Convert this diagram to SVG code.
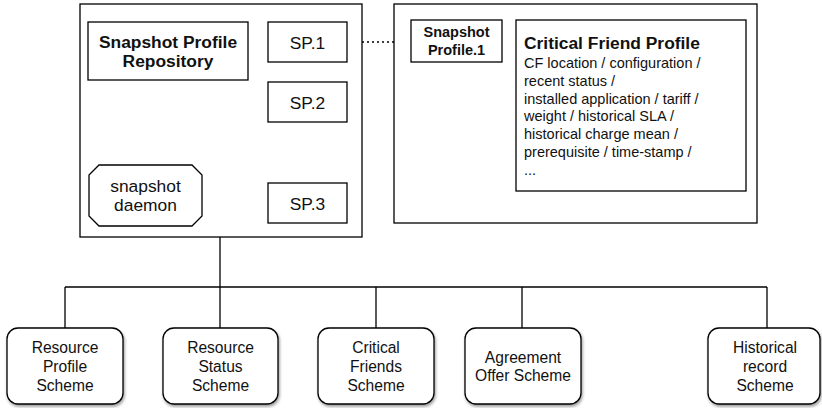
<svg xmlns="http://www.w3.org/2000/svg" width="822" height="408" viewBox="0 0 822 408">
<style>
  .box { fill: #fff; stroke: #000; stroke-width: 1.3; }
  .t { font-family: "Liberation Sans", Arial, sans-serif; fill: #111; }
  .b { font-weight: bold; }
  .conn { stroke: #000; stroke-width: 1.3; fill: none; }
</style>
<defs>
  <filter id="sh" x="-10%" y="-10%" width="130%" height="130%">
    <feGaussianBlur in="SourceAlpha" stdDeviation="1.5"/>
    <feOffset dx="1" dy="2" result="o"/>
    <feComponentTransfer><feFuncA type="linear" slope="0.4"/></feComponentTransfer>
    <feMerge><feMergeNode/><feMergeNode in="SourceGraphic"/></feMerge>
  </filter>
</defs>
<rect width="822" height="408" fill="#fff"/>

<g id="connectors">
  <line class="conn" x1="220" y1="237" x2="220" y2="287"/>
  <line class="conn" x1="65" y1="287" x2="767" y2="287"/>
  <line class="conn" x1="65" y1="287" x2="65" y2="328"/>
  <line class="conn" x1="220" y1="287" x2="220" y2="328"/>
  <line class="conn" x1="376" y1="287" x2="376" y2="328"/>
  <line class="conn" x1="522" y1="287" x2="522" y2="328"/>
  <line class="conn" x1="767" y1="287" x2="767" y2="328"/>
  <line class="conn" x1="347" y1="42" x2="411" y2="42" stroke-dasharray="2 3"/>
  <g fill="#000">
    <circle cx="300" cy="138" r="1.6"/>
    <circle cx="300" cy="153" r="1.6"/>
    <circle cx="300" cy="167" r="1.6"/>
  </g>
</g>

<g id="repository-container">
  <rect class="box" x="80" y="4" width="282" height="233"/>
</g>
<g id="snapshot-profile-repository">
  <rect class="box" x="88" y="22" width="160" height="58"/>
  <text class="t b" font-size="17.4" text-anchor="middle"><tspan x="168" y="48">Snapshot Profile</tspan><tspan x="168" y="67">Repository</tspan></text>
</g>
<g id="sp1">
  <rect class="box" x="268" y="22" width="79" height="40"/>
  <text class="t" font-size="17.4" x="307.5" y="49" text-anchor="middle">SP.1</text>
</g>
<g id="sp2">
  <rect class="box" x="268" y="82" width="79" height="40"/>
  <text class="t" font-size="17.4" x="307.5" y="109" text-anchor="middle">SP.2</text>
</g>
<g id="sp3">
  <rect class="box" x="268" y="183" width="79" height="40"/>
  <text class="t" font-size="17.4" x="307.5" y="210" text-anchor="middle">SP.3</text>
</g>
<g id="snapshot-daemon">
  <polygon class="box" points="99,165 192,165 202,175 202,216 192,226 99,226 89,216 89,175"/>
  <text class="t" font-size="17.4" text-anchor="middle"><tspan x="145.5" y="192">snapshot</tspan><tspan x="145.5" y="211">daemon</tspan></text>
</g>

<g id="profile-container">
  <rect class="box" x="394" y="4" width="363" height="219"/>
</g>
<g id="snapshot-profile-1">
  <rect class="box" x="411" y="20" width="91" height="42"/>
  <text class="t b" font-size="14.5" text-anchor="middle"><tspan x="456.5" y="37">Snapshot</tspan><tspan x="456.5" y="55">Profile.1</tspan></text>
</g>
<g id="critical-friend-profile">
  <rect class="box" x="516" y="20" width="230" height="171"/>
  <text class="t b" font-size="17.4" x="524" y="49">Critical Friend Profile</text>
  <text class="t" font-size="14.5">
    <tspan x="524" y="68">CF location / configuration /</tspan>
    <tspan x="524" y="85.5">recent status /</tspan>
    <tspan x="524" y="103.5">installed application / tariff /</tspan>
    <tspan x="524" y="121">weight / historical SLA /</tspan>
    <tspan x="524" y="138.5">historical charge mean /</tspan>
    <tspan x="524" y="156.5">prerequisite / time-stamp /</tspan>
    <tspan x="524" y="175">...</tspan>
  </text>
</g>

<g id="resource-profile-scheme">
  <rect class="box" x="7" y="328" width="116" height="76" rx="11" filter="url(#sh)"/>
  <text class="t" font-size="15.6" text-anchor="middle"><tspan x="65" y="353">Resource</tspan><tspan x="65" y="372">Profile</tspan><tspan x="65" y="391">Scheme</tspan></text>
</g>
<g id="resource-status-scheme">
  <rect class="box" x="163" y="328" width="115" height="76" rx="11" filter="url(#sh)"/>
  <text class="t" font-size="15.6" text-anchor="middle"><tspan x="220.5" y="353">Resource</tspan><tspan x="220.5" y="372">Status</tspan><tspan x="220.5" y="391">Scheme</tspan></text>
</g>
<g id="critical-friends-scheme">
  <rect class="box" x="318" y="328" width="116" height="76" rx="11" filter="url(#sh)"/>
  <text class="t" font-size="15.6" text-anchor="middle"><tspan x="376" y="353">Critical</tspan><tspan x="376" y="372">Friends</tspan><tspan x="376" y="391">Scheme</tspan></text>
</g>
<g id="agreement-offer-scheme">
  <rect class="box" x="465" y="328" width="116" height="76" rx="11" filter="url(#sh)"/>
  <text class="t" font-size="15.6" text-anchor="middle"><tspan x="523" y="362.5">Agreement</tspan><tspan x="523" y="381">Offer Scheme</tspan></text>
</g>
<g id="historical-record-scheme">
  <rect class="box" x="708" y="328" width="112" height="76" rx="11" filter="url(#sh)"/>
  <text class="t" font-size="15.6" text-anchor="middle"><tspan x="765" y="353">Historical</tspan><tspan x="765" y="372">record</tspan><tspan x="765" y="391">Scheme</tspan></text>
</g>
</svg>
